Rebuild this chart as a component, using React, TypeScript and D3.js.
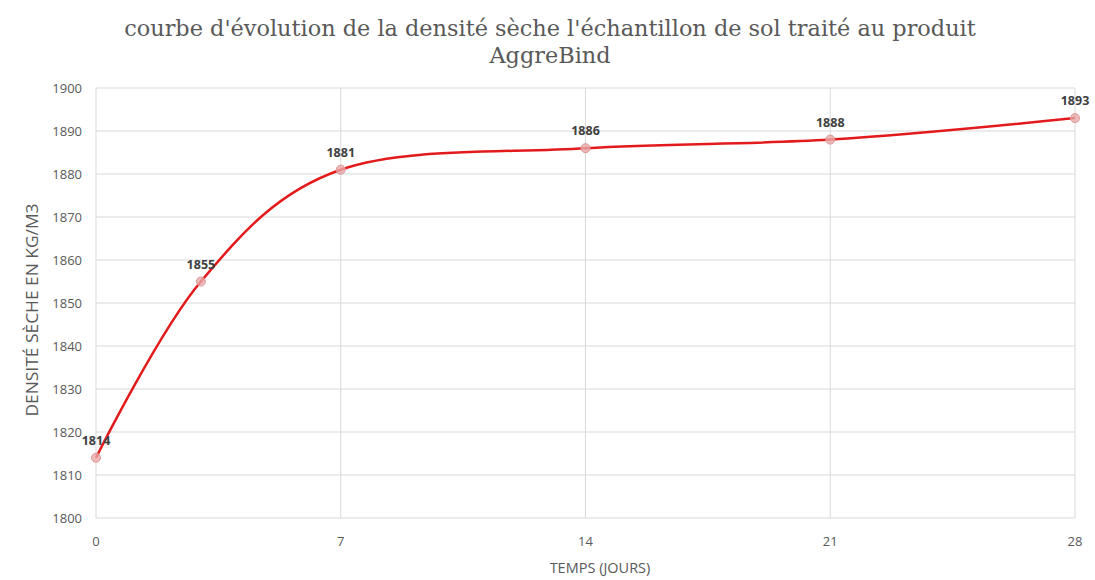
import React from "react";
import * as d3 from "d3";

const days = [0, 3, 7, 14, 21, 28];
const densities = [1814, 1855, 1881, 1886, 1888, 1893];
const xTicks = [0, 7, 14, 21, 28];
const yTicks = [1800, 1810, 1820, 1830, 1840, 1850, 1860, 1870, 1880, 1890, 1900];
const titleLines = [
  "courbe d'évolution de la densité sèche l'échantillon de sol traité au produit",
  "AggreBind",
];
const xTitle = "TEMPS (JOURS)";
const yTitle = "DENSITÉ SÈCHE EN KG/M3";

export default function App() {
  const W = 1095, H = 580;
  const left = 96, right = 1075, top = 88, bottom = 518;
  const x = d3.scaleLinear().domain([0, 28]).range([left, right]);
  const y = d3.scaleLinear().domain([1800, 1900]).range([bottom, top]);
  const pts: [number, number][] = days.map((d, i) => [d, densities[i]]);
  const line = d3
    .line<[number, number]>()
    .x((d) => x(d[0]))
    .y((d) => y(d[1]))
    .curve(d3.curveCardinal.tension(0));
  const sans = "'Open Sans', 'Noto Sans', sans-serif";
  return (
    <svg
      width={W}
      height={H}
      style={{ position: "absolute", left: 0, top: 0, background: "#fff" }}
    >
      <rect x={0} y={0} width={W} height={H} fill="#fff" />
      {titleLines.map((t, i) => (
        <text
          key={i}
          x={550}
          y={36 + i * 27}
          textAnchor="middle"
          fontFamily="'DejaVu Serif', serif"
          fontSize={22.4}
          fill="#595959"
        >
          {t}
        </text>
      ))}
      {yTicks.map((v) => (
        <line key={"h" + v} x1={left} x2={right} y1={y(v)} y2={y(v)} stroke="#d9d9d9" strokeWidth={1} />
      ))}
      {xTicks.map((v) => (
        <line key={"v" + v} x1={x(v)} x2={x(v)} y1={top} y2={bottom} stroke="#d9d9d9" strokeWidth={1} />
      ))}
      {yTicks.map((v) => (
        <text
          key={"yt" + v}
          x={82}
          y={y(v) + 4.5}
          textAnchor="end"
          fontFamily={sans}
          fontSize={13}
          fill="#595959"
        >
          {v}
        </text>
      ))}
      {xTicks.map((v) => (
        <text
          key={"xt" + v}
          x={x(v)}
          y={546}
          textAnchor="middle"
          fontFamily={sans}
          fontSize={13}
          fill="#595959"
        >
          {v}
        </text>
      ))}
      <text
        x={600}
        y={573}
        textAnchor="middle"
        fontFamily={sans}
        fontSize={14.5}
        fill="#595959"
      >
        {xTitle}
      </text>
      <text
        transform={`translate(38, 310) rotate(-90)`}
        textAnchor="middle"
        fontFamily={sans}
        fontSize={17}
        textLength={213}
        lengthAdjust="spacingAndGlyphs"
        fill="#595959"
      >
        {yTitle}
      </text>
      <path d={line(pts) || ""} fill="none" stroke="#e31a1c" strokeWidth={2.5} />
      {pts.map((p, i) => (
        <circle
          key={"c" + i}
          cx={x(p[0])}
          cy={y(p[1])}
          r={4.5}
          fill="#e8a8a8"
          fillOpacity={0.8}
          stroke="#d99"
          strokeWidth={1}
        />
      ))}
      {pts.map((p, i) => (
        <text
          key={"l" + i}
          x={x(p[0])}
          y={y(p[1]) - 13}
          textAnchor="middle"
          fontFamily={sans}
          fontSize={12.5}
          fontWeight="bold"
          fill="#404040"
        >
          {p[1]}
        </text>
      ))}
    </svg>
  );
}
